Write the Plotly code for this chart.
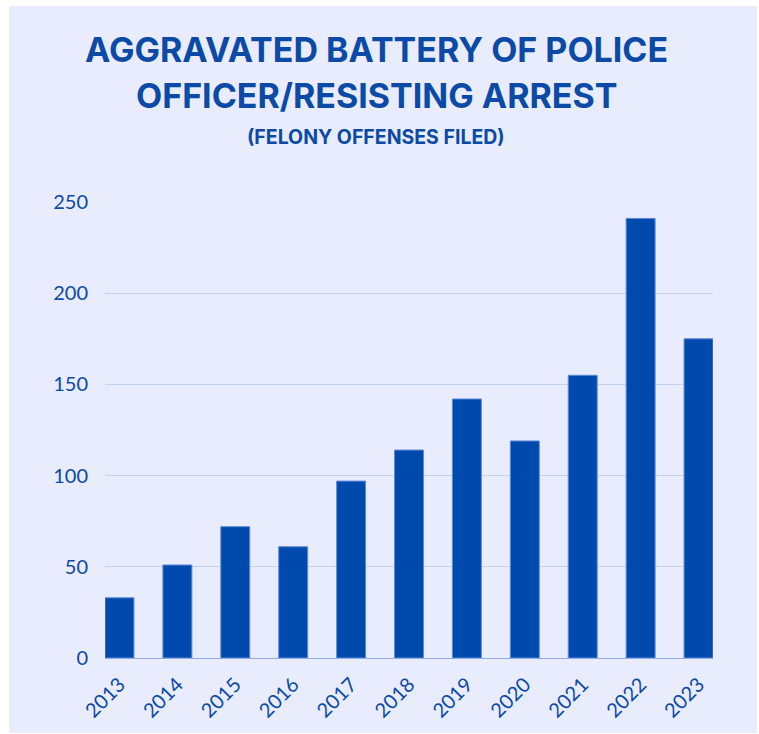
import plotly.graph_objects as go

# Felony offenses filed per year
years = ["2013", "2014", "2015", "2016", "2017", "2018",
         "2019", "2020", "2021", "2022", "2023"]
offenses = [33, 51, 72, 61, 97, 114, 142, 119, 155, 241, 175]
y_ticks = [0, 50, 100, 150, 200, 250]

title_line1 = "AGGRAVATED BATTERY OF POLICE"
title_line2 = "OFFICER/RESISTING ARREST"
subtitle = "(FELONY OFFENSES FILED)"

BLUE = "#004AAD"
TEXT = "#0B4AA6"
PANEL = "#E8ECFC"
GRID = "#C3D2F1"

W, H = 759, 734
L, R, T, B = 105, 46, 202, 76
pw, ph = W - L - R, H - T - B


def px_to_paper_x(px):
    return (px - L) / pw


def px_to_paper_y(py):
    return (H - B - py) / ph


fig = go.Figure(
    go.Bar(
        x=list(range(len(years))),
        y=offenses,
        width=0.5,
        marker=dict(color=BLUE, line=dict(color="#5E8BD6", width=1)),
        hoverinfo="x+y",
    )
)

# light panel behind the whole chart
fig.add_shape(
    type="rect", xref="paper", yref="paper", layer="below",
    x0=px_to_paper_x(9), x1=px_to_paper_x(757),
    y0=px_to_paper_y(733), y1=px_to_paper_y(6),
    fillcolor=PANEL, line=dict(width=0),
)

cx = px_to_paper_x(376)
title_font = dict(family="Inter", size=34, color=TEXT, weight="bold")
fig.add_annotation(text=f"<b>{title_line1}</b>", x=cx, y=px_to_paper_y(49),
                   xref="paper", yref="paper", showarrow=False,
                   xanchor="center", yanchor="middle", font=title_font)
fig.add_annotation(text=f"<b>{title_line2}</b>", x=cx, y=px_to_paper_y(95),
                   xref="paper", yref="paper", showarrow=False,
                   xanchor="center", yanchor="middle", font=title_font)
fig.add_annotation(text=f"<b>{subtitle}</b>", x=cx, y=px_to_paper_y(137),
                   xref="paper", yref="paper", showarrow=False,
                   xanchor="center", yanchor="middle",
                   font=dict(family="Inter", size=19.5, color=TEXT))

fig.update_layout(
    width=W, height=H,
    margin=dict(l=L, r=R, t=T, b=B, pad=0),
    paper_bgcolor="white",
    plot_bgcolor="rgba(0,0,0,0)",
    showlegend=False,
    bargap=0.5,
    font=dict(family="Lato", color=TEXT),
)
fig.update_xaxes(
    range=[-0.25, len(years) - 0.75],
    tickmode="array", tickvals=list(range(len(years))), ticktext=years,
    tickangle=-45, tickfont=dict(size=20, color=TEXT),
    showgrid=False, zeroline=False,
    showline=True, linecolor="#8EADE6", linewidth=1,
    ticks="", ticklabelstandoff=6,
)
fig.update_yaxes(
    range=[0, 250], tickmode="array", tickvals=y_ticks,
    tickfont=dict(size=20, color=TEXT),
    showgrid=True, gridcolor=GRID, gridwidth=1,
    zeroline=False, showline=False, ticks="",
    ticklabelstandoff=16,
)

fig.write_html("out.html")
